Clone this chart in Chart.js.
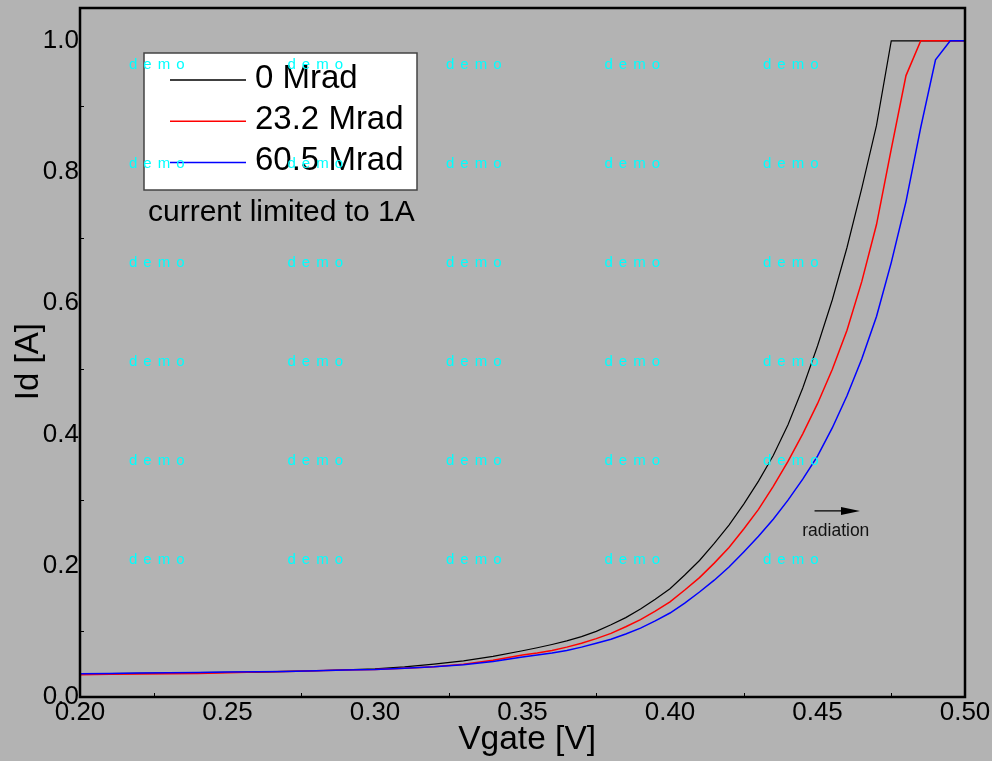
<!DOCTYPE html>
<html>
<head>
<meta charset="utf-8">
<script src="https://cdn.jsdelivr.net/npm/chart.js@4.4.1/dist/chart.umd.min.js"></script>
<style>
  html, body { margin: 0; padding: 0; background: #b3b3b3; }
  #wrap { width: 992px; height: 761px; }
</style>
</head>
<body>
<div id="wrap"><canvas id="chart" width="992" height="761"></canvas></div>
<script>
// Valores
const vgate = [0.20, 0.21, 0.22, 0.23, 0.24, 0.25, 0.26, 0.27, 0.28, 0.29, 0.30, 0.31, 0.32, 0.33, 0.34, 0.35,
  0.355, 0.36, 0.365, 0.37, 0.375, 0.38, 0.385, 0.39, 0.395, 0.40,
  0.405, 0.41, 0.415, 0.42, 0.425, 0.43, 0.435, 0.44, 0.445, 0.45,
  0.455, 0.46, 0.465, 0.47, 0.475, 0.48, 0.485, 0.49, 0.495, 0.50]

const id0Mrad = [0.035, 0.0355, 0.036, 0.0365, 0.037, 0.0375, 0.038, 0.039, 0.040, 0.0415, 0.043, 0.046, 0.050, 0.055, 0.062, 0.0705,
  0.075, 0.080, 0.0855, 0.092, 0.100, 0.110, 0.121, 0.134, 0.149, 0.165,
  0.186, 0.208, 0.234, 0.262, 0.294, 0.329, 0.368, 0.415, 0.471, 0.535,
  0.605, 0.685, 0.775, 0.871, 1.0, 1.0, 1.0, 1.0, 1.0, 1.0]

const id23Mrad = [0.034, 0.0345, 0.035, 0.0355, 0.036, 0.037, 0.038, 0.039, 0.040, 0.041, 0.042, 0.044, 0.046, 0.050, 0.056, 0.064,
  0.067, 0.071, 0.076, 0.082, 0.089, 0.097, 0.107, 0.118, 0.131, 0.145,
  0.163, 0.182, 0.204, 0.228, 0.256, 0.286, 0.321, 0.359, 0.401, 0.447,
  0.499, 0.559, 0.633, 0.720, 0.835, 0.947, 1.0, 1.0, 1.0, 1.0]

const id60Mrad = [0.0355, 0.036, 0.0365, 0.037, 0.0375, 0.038, 0.0385, 0.039, 0.040, 0.041, 0.042, 0.044, 0.046, 0.049, 0.054, 0.061,
  0.064, 0.067, 0.071, 0.076, 0.082, 0.088, 0.096, 0.105, 0.116, 0.128,
  0.143, 0.160, 0.178, 0.198, 0.221, 0.245, 0.271, 0.300, 0.332, 0.367,
  0.410, 0.459, 0.515, 0.580, 0.662, 0.755, 0.868, 0.971, 1.0, 1.0]

const seriesLabels = ["0 Mrad", "23.2 Mrad", "60.5 Mrad"]
const seriesColors = ["#000000", "#ff0000", "#0000ff"]

// Marcas menores (hacia dentro)
const xMinorTicks = [0.225, 0.275, 0.325, 0.375, 0.425, 0.475]
const yMinorTicks = [0.1, 0.3, 0.5, 0.7, 0.9]

const FONT = "'Liberation Sans', Arial, sans-serif"

const toPoints = (ys) => vgate.map((v, i) => ({ x: v, y: ys[i] }))

// Fondo gris, marco, marcas y anotaciones
const decorPlugin = {
  id: "decor",
  beforeDraw(chart) {
    const ctx = chart.ctx
    ctx.save()
    ctx.fillStyle = "#b3b3b3"
    ctx.fillRect(0, 0, chart.width, chart.height)
    ctx.restore()
  },
  afterDraw(chart) {
    const ctx = chart.ctx
    const area = chart.chartArea
    const xs = chart.scales.x
    const ys = chart.scales.y
    ctx.save()

    // marcas menores
    ctx.strokeStyle = "#000"
    ctx.lineWidth = 1
    ctx.beginPath()
    xMinorTicks.forEach((v) => {
      const px = Math.round(xs.getPixelForValue(v)) + 0.5
      ctx.moveTo(px, area.bottom)
      ctx.lineTo(px, area.bottom - 4)
    })
    yMinorTicks.forEach((v) => {
      const py = Math.round(ys.getPixelForValue(v)) + 0.5
      ctx.moveTo(area.left, py)
      ctx.lineTo(area.left + 4, py)
    })
    ctx.stroke()

    // marco
    ctx.lineWidth = 2.5
    ctx.strokeRect(area.left, area.top, area.right - area.left, area.bottom - area.top)

    // leyenda
    const lx = area.left + 64
    const ly = area.top + 45
    ctx.fillStyle = "#ffffff"
    ctx.fillRect(lx, ly, 273, 137)
    ctx.strokeStyle = "#444"
    ctx.lineWidth = 1.5
    ctx.strokeRect(lx, ly, 273, 137)
    ctx.font = "33px " + FONT
    ctx.textBaseline = "middle"
    ctx.textAlign = "left"
    seriesLabels.forEach((label, i) => {
      const y = ly + 27 + i * 41.2
      ctx.strokeStyle = seriesColors[i]
      ctx.lineWidth = 1.5
      ctx.beginPath()
      ctx.moveTo(lx + 26, y)
      ctx.lineTo(lx + 102, y)
      ctx.stroke()
      ctx.fillStyle = "#000"
      ctx.fillText(label, lx + 111, y - 1)
    })

    ctx.font = "30px " + FONT
    ctx.fillText("current limited to 1A", lx + 4, ly + 160)

    // flecha "radiation"
    const ax1 = xs.getPixelForValue(0.449)
    const ax2 = xs.getPixelForValue(0.4644)
    const ay = ys.getPixelForValue(0.2836)
    ctx.strokeStyle = "#000"
    ctx.lineWidth = 1.2
    ctx.beginPath()
    ctx.moveTo(ax1, ay)
    ctx.lineTo(ax2 - 10, ay)
    ctx.stroke()
    ctx.fillStyle = "#000"
    ctx.beginPath()
    ctx.moveTo(ax2, ay)
    ctx.lineTo(ax2 - 19, ay - 4)
    ctx.lineTo(ax2 - 19, ay + 4)
    ctx.closePath()
    ctx.fill()
    ctx.font = "17.5px " + FONT
    ctx.textAlign = "center"
    ctx.fillStyle = "#111"
    ctx.fillText("radiation", xs.getPixelForValue(0.4562), ys.getPixelForValue(0.2527))

    // marca de agua, letra a letra con espaciado
    ctx.font = "15px " + FONT
    ctx.textAlign = "left"
    ctx.fillStyle = "#00ffff"
    for (let r = 0; r < 6; r++) {
      for (let c = 0; c < 5; c++) {
        let x = 129 + c * 158.5
        for (const ch of "demo") {
          ctx.fillText(ch, x, 65 + r * 99)
          x += ctx.measureText(ch).width + 6
        }
      }
    }
    ctx.restore()
  },
}

new Chart(document.getElementById("chart"), {
  type: "line",
  data: {
    datasets: [
      { label: seriesLabels[0], data: toPoints(id0Mrad), borderColor: seriesColors[0], borderWidth: 1.2, order: 2 },
      { label: seriesLabels[1], data: toPoints(id23Mrad), borderColor: seriesColors[1], order: 1 },
      { label: seriesLabels[2], data: toPoints(id60Mrad), borderColor: seriesColors[2], order: 0 },
    ],
  },
  options: {
    responsive: false,
    animation: false,
    devicePixelRatio: 1,
    layout: { padding: { top: 8, right: 27, left: 0, bottom: 0 } },
    elements: {
      line: { borderWidth: 1.5, tension: 0, fill: false },
      point: { radius: 0 },
    },
    plugins: { legend: { display: false }, tooltip: { enabled: false } },
    scales: {
      x: {
        type: "linear",
        min: 0.2,
        max: 0.5,
        grid: { display: false, drawTicks: false },
        border: { display: false },
        ticks: {
          stepSize: 0.05,
          color: "#000",
          padding: 3,
          font: { family: FONT, size: 26, lineHeight: 1 },
          callback: (v) => v.toFixed(2),
        },
        title: {
          display: true,
          text: " Vgate [V]",
          color: "#000",
          font: { family: FONT, size: 33.5, lineHeight: 1 },
          padding: { top: 0, bottom: 4 },
        },
        afterFit: (scale) => {
          scale.height = 64
          scale.paddingLeft = 0
          scale.paddingRight = 0
        },
      },
      y: {
        min: 0,
        max: 1.05,
        grid: { display: false, drawTicks: false },
        border: { display: false },
        ticks: {
          stepSize: 0.2,
          includeBounds: false,
          color: "#000",
          padding: 1,
          font: { family: FONT, size: 26, lineHeight: 1 },
          callback: (v) => v.toFixed(1),
        },
        title: {
          display: true,
          text: "Id [A]  ",
          color: "#000",
          font: { family: FONT, size: 33, lineHeight: 1 },
          padding: { top: 12, bottom: 0 },
        },
        afterFit: (scale) => {
          scale.width = 80
          scale.paddingTop = 0
          scale.paddingBottom = 0
        },
      },
    },
  },
  plugins: [decorPlugin],
})
</script>
</body>
</html>
